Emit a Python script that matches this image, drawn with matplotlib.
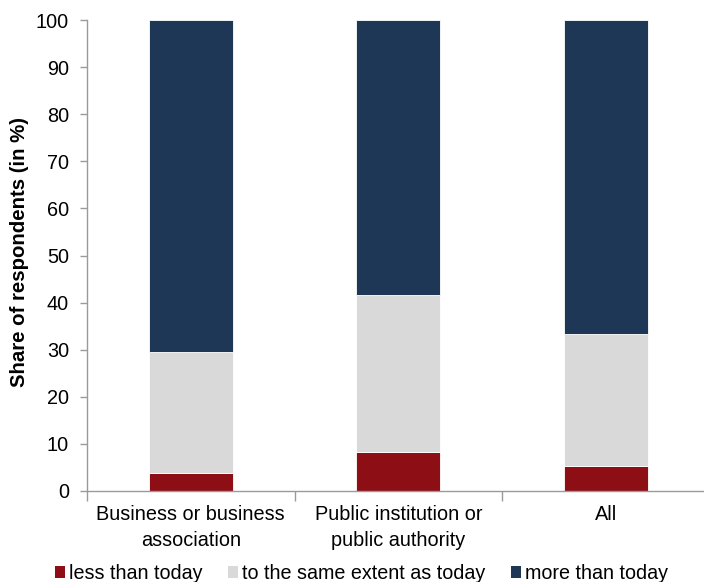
import matplotlib
matplotlib.use("Agg")
import matplotlib.pyplot as plt
from matplotlib.patches import Patch
import numpy as np

plt.rcParams['font.family'] = ['Liberation Sans', 'DejaVu Sans']

categories = ["Business or business\nassociation", "Public institution or\npublic authority", "All"]
series_names = ["less than today", "to the same extent as today", "more than today"]
less_vals = [3.9, 8.3, 5.3]
same_vals = [25.6, 33.4, 28.1]
more_vals = [70.5, 58.3, 66.6]
colors = ["#8E0E15", "#D9D9D9", "#1F3756"]
y_ticks = [0, 10, 20, 30, 40, 50, 60, 70, 80, 90, 100]

fig = plt.figure(figsize=(7.04, 5.82), dpi=100)
ax = fig.add_axes([87/704, 91/582, 617/704, 471/582])

x = np.arange(len(categories))
width = 0.405
bottom = np.zeros(len(categories))
for vals, col in zip([less_vals, same_vals, more_vals], colors):
    ax.bar(x, vals, width, bottom=bottom, color=col, edgecolor='white', linewidth=0.6)
    bottom += np.array(vals)

ax.set_ylim(0, 100)
ax.set_xlim(-0.5, 2.473)
ax.set_yticks(y_ticks)
ax.set_xticks(x)
ax.set_xticklabels(categories, fontsize=14.3, linespacing=1.45)
ax.tick_params(axis='x', which='major', length=0, pad=10)
ax.set_xticks([-0.5, 0.5, 1.5], minor=True)
ax.tick_params(axis='x', which='minor', length=7, color='#9a9a9a', width=1)
ax.tick_params(axis='y', length=5, color='#9a9a9a', width=1, labelsize=14.3, pad=8)

for s in ['top', 'right']:
    ax.spines[s].set_visible(False)
for s in ['left', 'bottom']:
    ax.spines[s].set_color('#9a9a9a')
    ax.spines[s].set_linewidth(1)

fig.text(20/704, 1 - 252/582, "Share of respondents (in %)", rotation=90,
         ha='center', va='center', fontsize=14.7, fontweight='bold')

handles = [Patch(facecolor=c, edgecolor='none') for c in colors]
fig.legend(handles, series_names, loc='lower center', bbox_to_anchor=(0.5135, -0.032),
           ncol=3, frameon=False, fontsize=14.2, handlelength=0.51, handleheight=0.51,
           handletextpad=0.2, columnspacing=1.32)

fig.savefig("out.png", dpi=100)
